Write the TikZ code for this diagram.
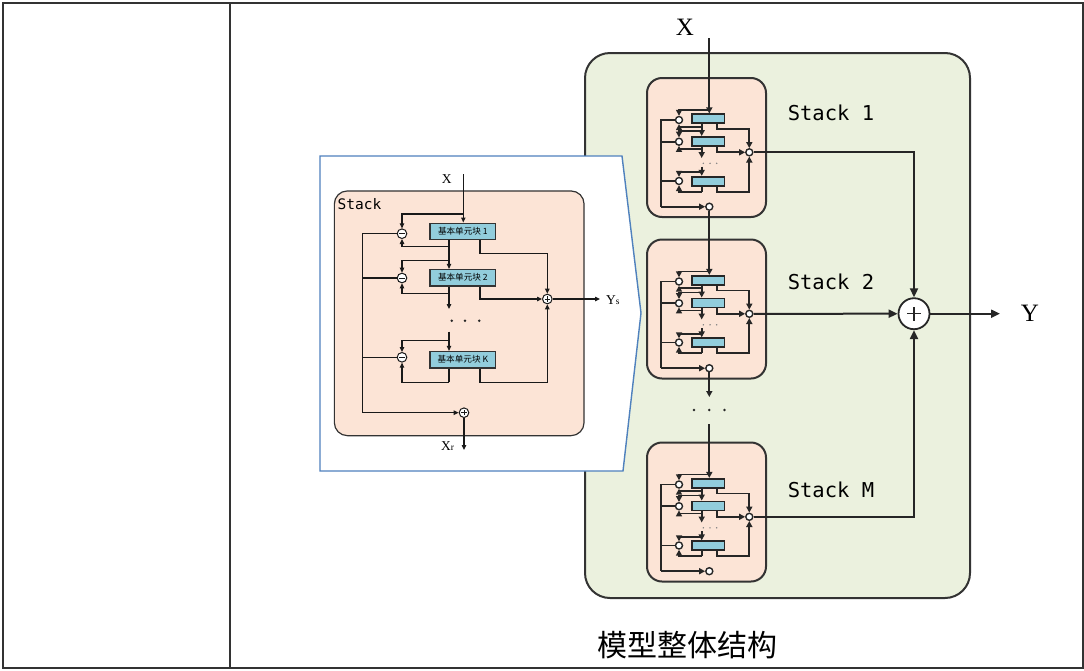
\documentclass[tikz,border=0pt]{standalone}
\usepackage{fontspec}
\setmainfont{Liberation Serif}
\newfontfamily\cjk{Noto Sans CJK SC}
\newfontfamily\monofam{DejaVu Sans Mono}
\usetikzlibrary{arrows.meta}

\definecolor{framegray}{HTML}{333333}
\definecolor{greenbg}{HTML}{EBF1DE}
\definecolor{pinkbg}{HTML}{FCE4D6}
\definecolor{blockblue}{HTML}{92CDDC}
\definecolor{calloutblue}{HTML}{4F81BD}

\tikzset{
  tblline/.style={line width=2pt, draw=framegray},
  greenbox/.style={draw=framegray, fill=greenbg, line width=2pt, rounded corners=25pt,
                   minimum width=385pt, minimum height=545pt, inner sep=0},
  % small stacks inside the model
  mbox/.style={draw=framegray, fill=pinkbg, line width=2pt, rounded corners=15pt,
               minimum width=119pt, minimum height=139pt, inner sep=0},
  mblk/.style={draw=black!85, fill=blockblue, line width=1.7pt, minimum width=32.3pt,
               minimum height=9pt, inner sep=0},
  mcirc/.style={circle, draw=black!85, fill=white, line width=1.4pt, minimum size=7pt, inner sep=0},
  mline/.style={line width=1.8pt, draw=black!85},
  marr/.style={mline, -{Triangle[length=6pt,width=6pt]}},
  stacklbl/.style={font=\monofam\fontsize{20.5}{20.5}\selectfont, inner sep=0},
  biglbl/.style={font=\fontsize{25}{25}\selectfont, inner sep=0},
  bigarr/.style={line width=2pt, draw=black!85, -{Triangle[length=9pt,width=8pt]}},
  sumbig/.style={circle, draw=black!85, fill=white, line width=1.8pt, minimum size=31pt, inner sep=0,
    path picture={\draw[line width=1.2pt] ([xshift=-7pt]path picture bounding box.center) -- ([xshift=7pt]path picture bounding box.center);
                  \draw[line width=1.2pt] ([yshift=-7pt]path picture bounding box.center) -- ([yshift=7pt]path picture bounding box.center);}},
  % detailed stack in the callout
  callout/.style={draw=calloutblue, fill=white, line width=1.4pt, line join=miter},
  dbox/.style={draw=black!80, fill=pinkbg, line width=1.2pt, rounded corners=13pt,
               minimum width=249.7pt, minimum height=244.7pt, inner sep=0},
  dblk/.style={draw=black!80, fill=blockblue, line width=1.1pt, minimum width=65.7pt,
               minimum height=16.5pt, inner sep=0, font=\cjk\fontsize{8.6}{9}\selectfont},
  dline/.style={line width=1.1pt, draw=black!90},
  darr/.style={dline, -{Triangle[length=5pt,width=4.4pt]}},
  dcirc/.style={circle, draw=black!90, fill=white, line width=1pt, minimum size=9.6pt, inner sep=0},
  minusc/.style={dcirc, path picture={\draw[line width=0.7pt] ([xshift=-2.6pt]path picture bounding box.center) -- ([xshift=2.6pt]path picture bounding box.center);}},
  plusc/.style={dcirc, path picture={\draw[line width=0.7pt] ([xshift=-2.6pt]path picture bounding box.center) -- ([xshift=2.6pt]path picture bounding box.center);
                                     \draw[line width=0.7pt] ([yshift=-2.6pt]path picture bounding box.center) -- ([yshift=2.6pt]path picture bounding box.center);}},
  dlbl/.style={font=\fontsize{13.5}{13.5}\selectfont, inner sep=0},
}

% one compact stack of basic blocks; #1 = name prefix, #2 = vertical offset
\newcommand\ministack[2]{%
\begin{scope}[shift={(0,#2)}]
  \node[mbox] (#1) at (706.5,147.5) {};
  \node[mblk] (#1-b1) at (708.2,118.8) {};
  \node[mblk] (#1-b2) at (708.2,141.4) {};
  \node[mblk] (#1-bK) at (708.2,181.2) {};
  \node[mcirc] (#1-c1) at (679,120) {};
  \node[mcirc] (#1-c2) at (679,141.7) {};
  \node[mcirc] (#1-cK) at (679,181) {};
  \node[mcirc] (#1-s) at (749.3,152.3) {};
  \node[mcirc] (#1-r) at (709.3,206.7) {};
  \coordinate (#1-in) at (709.3,110);
  \coordinate (#1-L1) at (661,120);
  \coordinate (#1-L2) at (661,141.7);
  \coordinate (#1-LK) at (661,181);
  \coordinate (#1-Lb) at (661,206.7);
  \coordinate (#1-u1) at (701.7,126.7);
  \coordinate (#1-d2) at (701.7,131);
  \coordinate (#1-u2) at (701.7,149);
  \coordinate (#1-e2) at (701.7,158);
  \coordinate (#1-sK) at (701.7,166.5);
  \coordinate (#1-dK) at (701.7,172.3);
  \coordinate (#1-uK) at (701.7,191.7);
  \coordinate (#1-o1) at (716.7,129);
  \coordinate (#1-o2) at (716.7,152.3);
  \coordinate (#1-oK) at (716.7,191.7);
  % residual path on the left
  \draw[mline] (#1-c1) -- (#1-L1) -- (#1-Lb);
  \draw[marr] (#1-Lb) -- (#1-r);
  \draw[mline] (#1-c2) -- (#1-L2);
  \draw[mline] (#1-cK) -- (#1-LK);
  \draw[marr] (#1-in) -| (#1-c1);
  \draw[marr] (#1-b1.south -| #1-u1) -- (#1-b2.north -| #1-u1);
  \draw[marr] (#1-u1) -| (#1-c1);
  \draw[marr] (#1-d2) -| (#1-c2);
  \draw[marr] (#1-b2.south -| #1-u2) -- (#1-e2);
  \draw[marr] (#1-u2) -| (#1-c2);
  \fill[black!50] (703.3,163.3) circle (0.8) (710,163.3) circle (0.8) (716.7,163.3) circle (0.8);
  \draw[marr] (#1-sK) -- (#1-bK.north -| #1-sK);
  \draw[marr] (#1-dK) -| (#1-cK);
  \draw[mline] (#1-bK.south -| #1-uK) -- (#1-uK);
  \draw[marr] (#1-uK) -| (#1-cK);
  % forecast path on the right
  \draw[marr] (#1-b1.south -| #1-o1) -- (#1-o1) -| (#1-s);
  \draw[marr] (#1-b2.south -| #1-o2) |- (#1-s);
  \draw[marr] (#1-bK.south -| #1-oK) -- (#1-oK) -| (#1-s);
\end{scope}}

\begin{document}
\begin{tikzpicture}[x=1pt,y=-1pt]
\useasboundingbox (0,0) rectangle (1084,670);
\fill[white] (0,0) rectangle (1084,670);

% table frame
\draw[tblline] (3.3,2.7) rectangle (1082.7,668.3);
\draw[tblline] (230,2.7) -- (230,668.3);

% whole model
\node[greenbox] (model) at (777.5,325.5) {};
\ministack{s1}{0}
\ministack{s2}{161.5}
\ministack{sM}{364.5}

\node[stacklbl] (lbl1) at (831,113) {Stack 1};
\node[stacklbl] (lbl2) at (831,282) {Stack 2};
\node[stacklbl] (lblM) at (831,490) {Stack M};

\node[biglbl] (X) at (685,27) {X};
\coordinate (xin) at (709.3,38);
\draw[marr] (xin) -- (s1-b1.north -| xin);
\draw[marr] (s1-r) -- (s2-b1.north -| s1-r);
\coordinate (gapA) at (709.3,397);
\coordinate (gapB) at (709.3,424);
\draw[marr] (s2-r) -- (gapA);
\fill[black!85] (694,410) circle (1.4) (709.3,410) circle (1.4) (724.5,410) circle (1.4);
\draw[marr] (gapB) -- (sM-b1.north -| gapB);

\node[sumbig] (sum) at (914,313.7) {};
\draw[bigarr] (s1-s) -| (sum);
\draw[bigarr] (s2-s) -- (sum);
\draw[bigarr] (sM-s) -| (sum);
\coordinate (yout) at (1000,313.7);
\draw[bigarr] (sum) -- (yout);
\node[biglbl] (Y) at (1030,313) {Y};

% callout with the inside of one stack
\draw[callout] (320,156) -- (622,156) -- (641,313) -- (623,471) -- (320,471) -- cycle;
\node[dbox] (d) at (459.2,313.3) {};
\node[font=\monofam\fontsize{14.5}{14.5}\selectfont, inner sep=0] (dlbl) at (359.5,204) {Stack};

\node[dlbl] (dX) at (446.7,179) {X};
\coordinate (d-xtop) at (463.3,174);

\node[dblk] (d-b1) at (462.85,231.3) {基本单元块 1};
\node[dblk] (d-b2) at (462.85,277.7) {基本单元块 2};
\node[dblk] (d-bK) at (462.85,359.7) {基本单元块 K};
\node[minusc] (d-c1) at (402,233.7) {};
\node[minusc] (d-c2) at (402,278) {};
\node[minusc] (d-cK) at (402,357.3) {};
\node[plusc] (d-ys) at (547.3,299) {};
\node[plusc] (d-xr) at (464,412.7) {};

\coordinate (d-in) at (463.3,214);
\coordinate (d-L1) at (362.3,233.7);
\coordinate (d-L2) at (362.3,278);
\coordinate (d-LK) at (362.3,357.3);
\coordinate (d-Lb) at (362.3,412.7);
\coordinate (d-u1) at (449,246.7);
\coordinate (d-d2) at (449,260.3);
\coordinate (d-u2) at (449,293.3);
\coordinate (d-e2) at (449,309);
\coordinate (d-sK) at (449,331.7);
\coordinate (d-dK) at (449,340.7);
\coordinate (d-uK) at (449,382.3);
\coordinate (d-o1) at (480,253.3);
\coordinate (d-o2) at (480,299);
\coordinate (d-oK) at (480,382.3);
\coordinate (d-ysend) at (600,299);
\coordinate (d-xrend) at (464,450);

\draw[darr] (d-xtop) -- (d-b1.north -| d-xtop);
\draw[dline] (d-c1) -- (d-L1) -- (d-Lb);
\draw[darr] (d-Lb) -- (d-xr);
\draw[dline] (d-c2) -- (d-L2);
\draw[dline] (d-cK) -- (d-LK);
\draw[darr] (d-in) -| (d-c1);
\draw[darr] (d-b1.south -| d-u1) -- (d-b2.north -| d-u1);
\draw[darr] (d-u1) -| (d-c1);
\draw[darr] (d-d2) -| (d-c2);
\draw[darr] (d-b2.south -| d-u2) -- (d-e2);
\draw[darr] (d-u2) -| (d-c2);
\fill[black!85] (451.7,320.7) circle (1.4) (465,320.7) circle (1.4) (479.3,320.7) circle (1.4);
\draw[darr] (d-sK) -- (d-bK.north -| d-sK);
\draw[darr] (d-dK) -| (d-cK);
\draw[dline] (d-bK.south -| d-uK) -- (d-uK);
\draw[darr] (d-uK) -| (d-cK);
\draw[darr] (d-b1.south -| d-o1) -- (d-o1) -| (d-ys);
\draw[darr] (d-b2.south -| d-o2) |- (d-ys);
\draw[darr] (d-bK.south -| d-oK) -- (d-oK) -| (d-ys);
\draw[darr] (d-ys) -- (d-ysend);
\draw[darr] (d-xr) -- (d-xrend);
\node[dlbl, anchor=west] (dYs) at (606,300) {Y\raisebox{-0.5pt}{\fontsize{9.5}{9.5}\selectfont s}};
\node[dlbl] (dXr) at (447.5,446) {X\raisebox{-0.5pt}{\fontsize{9.5}{9.5}\selectfont r}};

% caption
\node[font=\cjk\fontsize{30}{30}\selectfont, inner sep=0] (title) at (687,645) {模型整体结构};
\end{tikzpicture}
\end{document}
